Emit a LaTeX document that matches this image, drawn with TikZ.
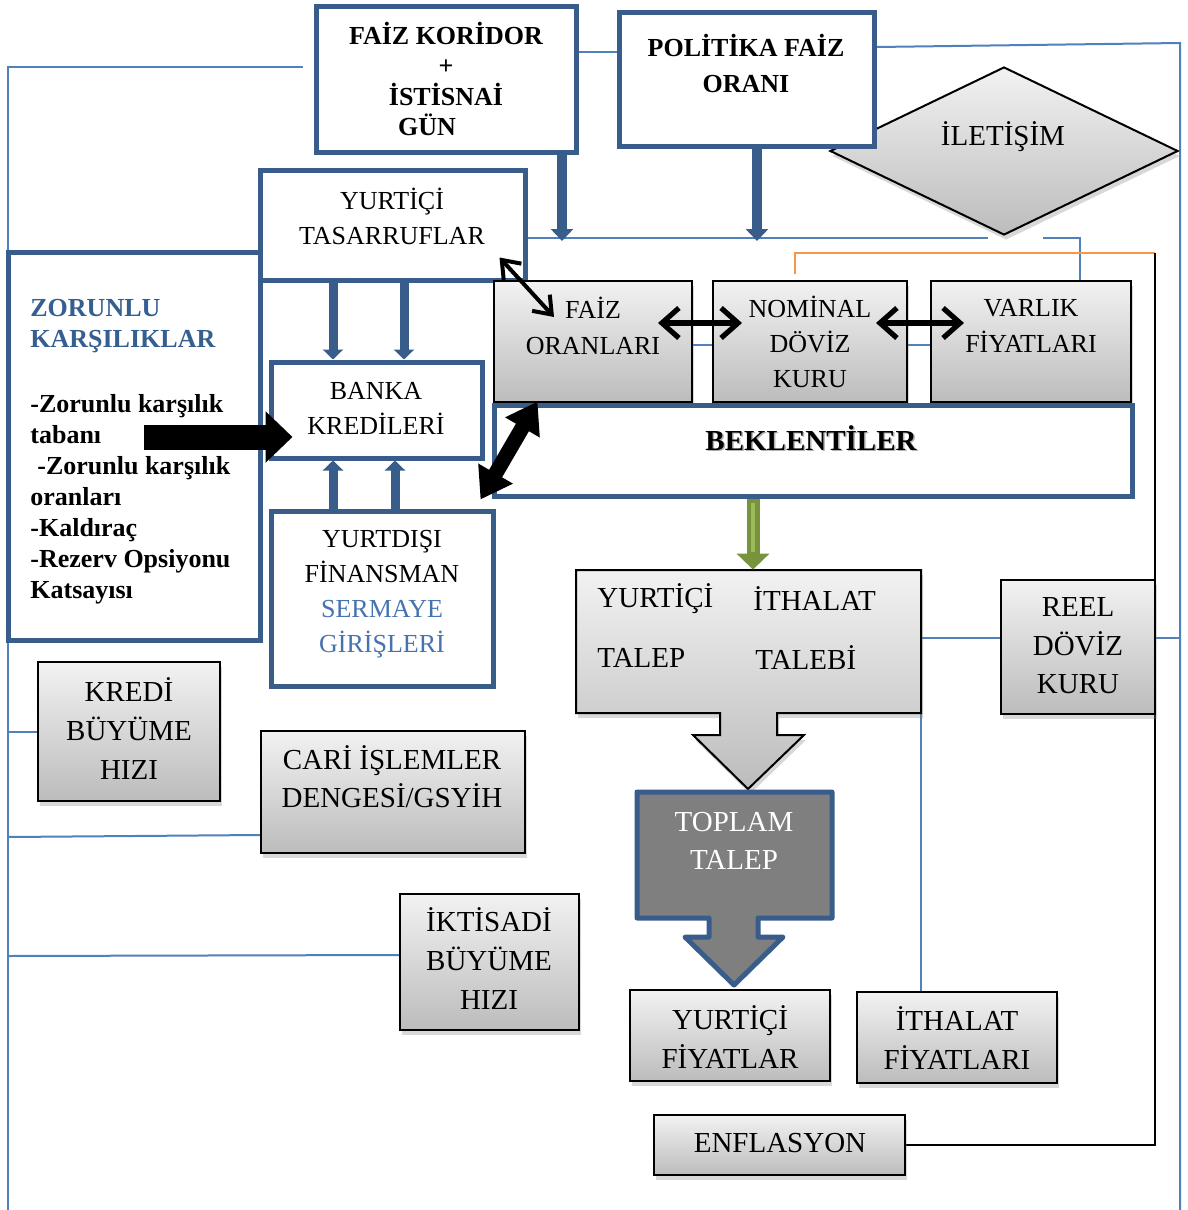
\documentclass[tikz,border=0pt]{standalone}
\usepackage{fontspec}
\setmainfont{Liberation Serif}
\usetikzlibrary{arrows.meta,shapes.geometric,shadows,calc}
\definecolor{bdark}{RGB}{56,93,138}
\definecolor{bthin}{RGB}{79,129,189}
\definecolor{btitle}{RGB}{54,95,145}
\definecolor{bsec}{RGB}{70,114,176}
\definecolor{gdark}{RGB}{119,147,60}
\definecolor{glight}{RGB}{155,187,89}
\definecolor{orng}{RGB}{247,150,70}
\definecolor{gtop}{RGB}{242,242,242}
\definecolor{gbot}{RGB}{188,188,188}
\definecolor{tgray}{RGB}{127,127,127}
\pgfdeclarelayer{backdrop}
\pgfdeclarelayer{background}
\pgfsetlayers{backdrop,background,main}
\begin{document}
\begin{tikzpicture}[x=0.5pt,y=-0.5pt,
  bbox/.style={draw=bdark, line width=2.5pt, fill=white, inner sep=0pt},
  gbox/.style={draw=black, line width=1pt, top color=gtop, bottom color=gbot, inner sep=0pt,
    drop shadow={opacity=0.3,shadow xshift=1pt,shadow yshift=-2.5pt}},
  ta/.style={font=\fontsize{13}{#1}\selectfont, align=center, inner sep=0pt},
  tab/.style={font=\fontsize{13}{#1}\selectfont\bfseries, align=center, inner sep=0pt},
  tb/.style={font=\fontsize{14.5}{#1}\selectfont, align=center, inner sep=0pt},
  thinln/.style={draw=bthin, line width=1pt},
  chev/.style={line width=2.6pt, line cap=round, line join=round,
    {Straight Barb[length=8.5pt,width=15pt]}-{Straight Barb[length=8.5pt,width=15pt]}},
]
\useasboundingbox (0,0) rectangle (1188,1210);
\begin{pgfonlayer}{backdrop}
  \fill[white] (0,0) rectangle (1188,1210);
\end{pgfonlayer}

% diamond first (partly under POLITIKA box)
\node[gbox, diamond, minimum width=174pt, minimum height=84pt] (ilet) at (1004,151) {};
\node[tb=17] (ilett) at (1003,137) {İLETİŞİM};

% top boxes
\node[bbox, minimum width=130pt, minimum height=73pt] (kor) at (446,79) {};
\node[tab=15.25] (kort) at (446,79) {FAİZ KORİDOR\\+\\İSTİSNAİ\\GÜN\hspace*{19pt}};
\node[bbox, minimum width=127.5pt, minimum height=67pt] (pol) at (746.5,79) {};
\node[tab=18] (polt) at (746,63) {POLİTİKA FAİZ\\ORANI};

% left side boxes
\node[bbox, minimum width=126pt, minimum height=194pt] (zor) at (134,446) {};
\node[font=\fontsize{13}{15.5}\selectfont\bfseries, text=btitle, align=left, inner sep=0pt, anchor=west] (zort) at (30,326) {ZORUNLU\\KARŞILIKLAR};
\node[font=\fontsize{13}{15.5}\selectfont\bfseries, align=left, inner sep=0pt, anchor=west] (zorl) at (30,499)
  {-Zorunlu karşılık\\tabanı\\\hspace*{3.5pt}-Zorunlu karşılık\\oranları\\-Kaldıraç\\-Rezerv Opsiyonu\\Katsayısı};
\node[bbox, minimum width=132.5pt, minimum height=55pt] (tas) at (392.5,225) {};
\node[ta=17.5] (tast) at (392,216) {YURTİÇİ\\TASARRUFLAR};
\node[bbox, minimum width=105.5pt, minimum height=48pt] (banka) at (376.5,410) {};
\node[ta=17.5] (bankat) at (376,408) {BANKA\\KREDİLERİ};
\node[bbox, minimum width=111pt, minimum height=87.5pt] (yd) at (382,598.5) {};
\node[ta=17.5] (ydt) at (382,594) {YURTDIŞI\\FİNANSMAN\\\textcolor{bsec}{SERMAYE}\\\textcolor{bsec}{GİRİŞLERİ}};

% transmission boxes
\node[gbox, minimum width=99pt, minimum height=60.5pt] (faiz) at (593,341.5) {};
\node[ta=18] (faizt) at (593,326) {FAİZ\\ORANLARI};
\node[gbox, minimum width=97pt, minimum height=60.5pt] (nom) at (810,341.5) {};
\node[ta=17.5] (nomt) at (810,342) {NOMİNAL\\DÖVİZ\\KURU};
\node[gbox, minimum width=100pt, minimum height=60.5pt] (var) at (1031,341.5) {};
\node[ta=18] (vart) at (1031,326) {VARLIK\\FİYATLARI};

\node[bbox, minimum width=319pt, minimum height=45.5pt] (bek) at (813,450.5) {};
\node[font=\fontsize{14.5}{17}\selectfont\bfseries, text=black!30, inner sep=0pt] (beks) at (812.5,439.5) {BEKLENTİLER};
\node[font=\fontsize{14.5}{17}\selectfont\bfseries, inner sep=0pt] (bekt) at (811,438) {BEKLENTİLER};

% demand block with arrow
\path[draw=black, line width=1pt, top color=gtop, bottom color=gbot,
  drop shadow={opacity=0.3,shadow xshift=1pt,shadow yshift=-2.5pt}]
  (576,570) -- (921,570) -- (921,713) -- (777,713) -- (777,735) -- (804,735) -- (748,789)
  -- (693,735) -- (720,735) -- (720,713) -- (576,713) -- cycle;
\node[minimum width=172.5pt, minimum height=71.5pt, inner sep=0pt] (ytal) at (748.5,641.5) {};
\node[tb=17, anchor=west] (yt1) at (597,599) {YURTİÇİ};
\node[tb=17, anchor=west] (yt2) at (753,599) {İTHALAT};
\node[tb=17, anchor=west] (yt3) at (597,658) {TALEP};
\node[tb=17, anchor=west] (yt4) at (755,658) {TALEBİ};

\path[draw=bdark, line width=2.5pt, fill=tgray, line join=round]
  (637,792) -- (832,792) -- (832,918) -- (758,918) -- (758,937) -- (783,937) -- (734,985)
  -- (685,937) -- (709,937) -- (709,918) -- (637,918) -- cycle;
\node[minimum width=97.5pt, minimum height=63pt, inner sep=0pt] (top) at (734.5,855) {};
\node[tb=19, text=white] (topt) at (734,841) {TOPLAM\\TALEP};

\node[gbox, minimum width=77pt, minimum height=67pt] (reel) at (1078,647) {};
\node[tb=19.25] (reelt) at (1078,646) {REEL\\DÖVİZ\\KURU};
\node[gbox, minimum width=91pt, minimum height=69.5pt] (kredi) at (129,731.5) {};
\node[tb=19.5] (kredit) at (129,729) {KREDİ\\BÜYÜME\\HIZI};
\node[gbox, minimum width=132pt, minimum height=61pt] (cari) at (393,792) {};
\node[tb=19] (carit) at (392,777) {CARİ İŞLEMLER\\DENGESİ/GSYİH};
\node[gbox, minimum width=89.5pt, minimum height=68pt] (ikt) at (489.5,962) {};
\node[tb=19.5] (iktt) at (489,959) {İKTİSADİ\\BÜYÜME\\HIZI};
\node[gbox, minimum width=100pt, minimum height=45.5pt] (yf) at (730,1035.5) {};
\node[tb=19.5] (yft) at (730,1037) {YURTİÇİ\\FİYATLAR};
\node[gbox, minimum width=100pt, minimum height=45.5pt] (itf) at (957,1037.5) {};
\node[tb=19.5] (itft) at (957,1038) {İTHALAT\\FİYATLARI};
\node[gbox, minimum width=125.5pt, minimum height=30pt] (enf) at (779.5,1145) {};
\node[tb=17] (enft) at (780,1143) {ENFLASYON};

% thin connector lines
\coordinate (lt) at (8,67);
\coordinate (lb) at (8,1210);
\coordinate (ltend) at (303,67);
\coordinate (rt) at (1180,43);
\coordinate (rb) at (1180,1210);
\coordinate (hA) at (988,238);
\coordinate (hB) at (1043,238);
\coordinate (oA) at (795,274);
\coordinate (oB) at (1155,253);
\begin{pgfonlayer}{background}
  \draw[thinln] (lb) -- (lt) -- (ltend);
  \draw[thinln] (kor.east |- 0,52) -- (pol.west |- 0,52);
  \draw[thinln] (pol.east |- 0,47) -- (rt) -- (rb);
  \draw[thinln] (tas.east |- 0,238) -- (hA);
  \draw[thinln] (hB) -| (var.north -| 1080,0);
  \draw[thinln] (faiz.east |- 0,345) -- (nom.west |- 0,345);
  \draw[thinln] (nom.east |- 0,345) -- (var.west |- 0,345);
  \draw[thinln] (ytal.east |- 0,638) -- (reel.west |- 0,638);
  \draw[thinln] (reel.east |- 0,638) -- (rt |- 0,638);
  \draw[thinln] (ytal.south east) -- (itf.north -| ytal.south east);
  \draw[thinln] (lt |- kredi.west) -- (kredi.west);
  \draw[thinln] (lt |- 0,837) -- (cari.west |- 0,835);
  \draw[thinln] (lt |- 0,956) -- (ikt.west |- 0,955);
  \draw[orng, line width=1pt] (oA) |- (oB);
  \draw[black, line width=1pt] (oB) |- (enf.east);
\end{pgfonlayer}

% thick blue arrows
\draw[bdark, line width=5pt, -{Triangle[width=11pt,length=6pt]}] (kor.south -| 562,0) -- (562,241);
\draw[bdark, line width=5pt, -{Triangle[width=11pt,length=6pt]}] (pol.south -| 757,0) -- (757,241);
\draw[bdark, line width=4.5pt, -{Triangle[width=10pt,length=5pt]}] (tas.south -| 333,0) -- (banka.north -| 333,0);
\draw[bdark, line width=4.5pt, -{Triangle[width=10pt,length=5pt]}] (tas.south -| 404,0) -- (banka.north -| 404,0);
\draw[bdark, line width=4.5pt, -{Triangle[width=10pt,length=5pt]}] (yd.north -| 333,0) -- (banka.south -| 333,0);
\draw[bdark, line width=4.5pt, -{Triangle[width=10pt,length=5pt]}] (yd.north -| 395,0) -- (banka.south -| 395,0);

% green arrow
\draw[gdark, line width=6.5pt, -{Triangle[width=16pt,length=8pt]}] (bek.south -| 753,0) -- (ytal.north -| 753,0);
\draw[glight, line width=2pt, shorten >=9pt, shorten <=2pt] (bek.south -| 753,0) -- (ytal.north -| 753,0);

% black arrows
\draw[chev] ($(faiz.east)+(-35,-18.5)$) -- ($(nom.west)+(30,-18.5)$);
\draw[chev] ($(nom.east)+(-32,-18.5)$) -- ($(var.west)+(34,-18.5)$);
\draw[line width=2pt, line cap=round, line join=round,
  {Straight Barb[length=8pt,width=12pt]}-{Straight Barb[length=8pt,width=12pt]}]
  ($(tas.south east)+(-28,-25)$) -- ($(faiz.north west)+(61,37)$);
\draw[line width=7.5pt, {Triangle[width=19pt,length=15pt]}-{Triangle[width=19pt,length=15pt]}]
  ($(bek.north west)+(46,-1)$) -- ($(yd.north east)+(-15,-9)$);
\draw[line width=12.5pt, -{Triangle[width=25pt,length=13.5pt]}]
  ($(banka.west)+(-125,27)$) -- ($(banka.west)+(24,27)$);
\end{tikzpicture}
\end{document}
